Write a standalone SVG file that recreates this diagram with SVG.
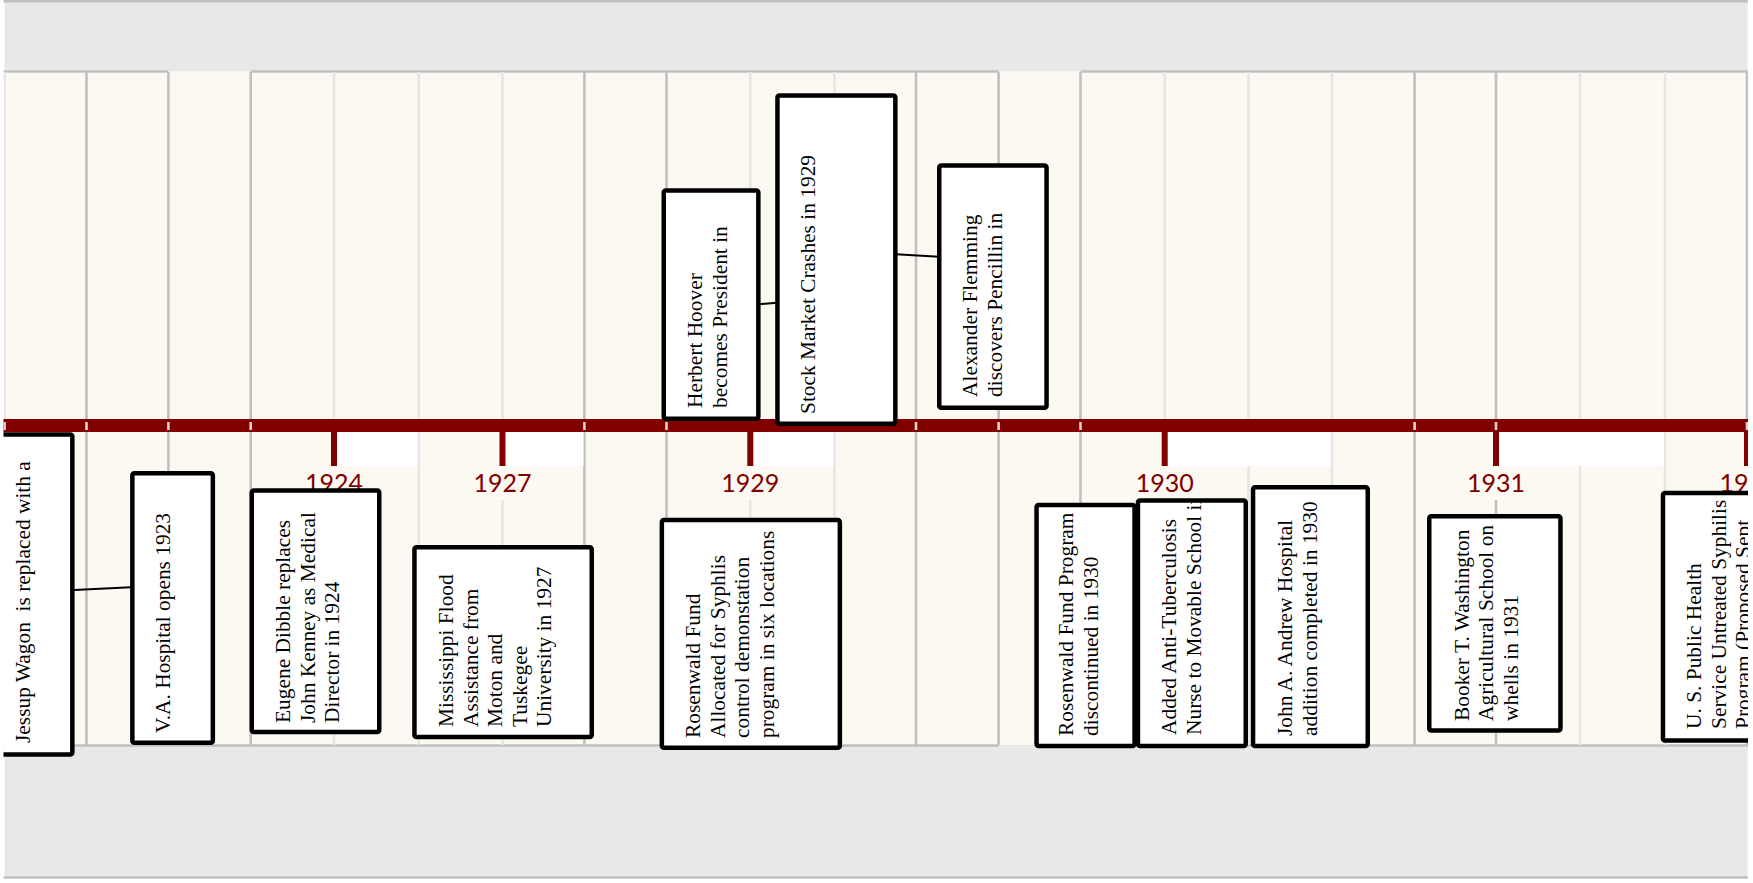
<svg xmlns="http://www.w3.org/2000/svg" width="1753" height="883" viewBox="0 0 1753 883">
<defs>
<style>
.gd{stroke:#c0c0c0;stroke-width:2.6}
.gl{stroke:#e6e6e6;stroke-width:2.6}
.box{fill:#fff;stroke:#000;stroke-width:4.5}
.txt{font-family:"Liberation Serif","Times New Roman",serif;font-size:21.4px;fill:#000}
.yr{font-family:Lato,"Liberation Sans",sans-serif;font-size:25px;fill:#800000}
.conn{stroke:#000;stroke-width:2;fill:none}
.tick{fill:#800000}
.mark{fill:#d4d4d4}
.wht{fill:#fff}
.crm{fill:#fcf9f2}
</style>
<clipPath id="view"><rect x="3.5" y="0" width="1744.5" height="883"/></clipPath>
<clipPath id="clipAdded"><rect x="1139" y="502.8" width="106" height="243"/></clipPath>
</defs>
<g clip-path="url(#view)">
<g id="background">
<rect x="4.6" y="1.5" width="1743" height="70" fill="#e8e8e8"/>
<line x1="3" y1="1.3" x2="1748" y2="1.3" class="gd" stroke-width="3"/>
<rect x="4.6" y="72" width="1743" height="673" class="crm"/>
<rect x="4.6" y="745" width="1743" height="132" fill="#e8e8e8"/>
<line x1="3" y1="71.5" x2="168.4" y2="71.5" class="gd" stroke-width="3"/>
<line x1="250.7" y1="71.5" x2="998.6" y2="71.5" class="gd" stroke-width="3"/>
<line x1="1080.5" y1="71.5" x2="1748" y2="71.5" class="gd" stroke-width="3"/>
<line x1="3" y1="745.5" x2="998.6" y2="745.5" class="gd"/>
<line x1="1080.5" y1="745.5" x2="1748" y2="745.5" class="gd"/>
<line x1="3" y1="877.5" x2="1748" y2="877.5" class="gd" stroke-width="3"/>
<g id="grid">
<line x1="4.6" y1="72" x2="4.6" y2="745" class="gl"/>
<line x1="86.5" y1="72" x2="86.5" y2="745" class="gd"/>
<line x1="168.4" y1="72" x2="168.4" y2="745" class="gd"/>
<line x1="250.7" y1="72" x2="250.7" y2="745" class="gd"/>
<line x1="334" y1="72" x2="334" y2="745" class="gl"/>
<line x1="418.7" y1="72" x2="418.7" y2="745" class="gl"/>
<line x1="502.5" y1="72" x2="502.5" y2="745" class="gl"/>
<line x1="584.4" y1="72" x2="584.4" y2="745" class="gd"/>
<line x1="666.5" y1="72" x2="666.5" y2="745" class="gd"/>
<line x1="750.3" y1="72" x2="750.3" y2="745" class="gl"/>
<line x1="834.5" y1="72" x2="834.5" y2="745" class="gl"/>
<line x1="916" y1="72" x2="916" y2="745" class="gd"/>
<line x1="998.6" y1="72" x2="998.6" y2="745" class="gd"/>
<line x1="1080.5" y1="72" x2="1080.5" y2="745" class="gd"/>
<line x1="1164.7" y1="72" x2="1164.7" y2="745" class="gl"/>
<line x1="1248.5" y1="72" x2="1248.5" y2="745" class="gl"/>
<line x1="1332" y1="72" x2="1332" y2="745" class="gl"/>
<line x1="1414.6" y1="72" x2="1414.6" y2="745" class="gd"/>
<line x1="1496" y1="72" x2="1496" y2="745" class="gd"/>
<line x1="1580" y1="72" x2="1580" y2="745" class="gl"/>
<line x1="1665" y1="72" x2="1665" y2="745" class="gl"/>
<line x1="1747" y1="72" x2="1747" y2="745" class="gd"/>
</g>
<g id="timeline">
<rect x="3" y="419" width="1746" height="13" fill="#800000"/>
<rect x="3.3" y="422" width="2.6" height="8" class="mark"/>
<rect x="85.2" y="422" width="2.6" height="8" class="mark"/>
<rect x="167.1" y="422" width="2.6" height="8" class="mark"/>
<rect x="249.4" y="422" width="2.6" height="8" class="mark"/>
<rect x="583.1" y="422" width="2.6" height="8" class="mark"/>
<rect x="665.2" y="422" width="2.6" height="8" class="mark"/>
<rect x="914.7" y="422" width="2.6" height="8" class="mark"/>
<rect x="997.3" y="422" width="2.6" height="8" class="mark"/>
<rect x="1079.2" y="422" width="2.6" height="8" class="mark"/>
<rect x="1413.3" y="422" width="2.6" height="8" class="mark"/>
<rect x="1494.7" y="422" width="2.6" height="8" class="mark"/>
<rect x="1745.7" y="422" width="2.6" height="8" class="mark"/>
<rect x="335.5" y="432" width="82" height="34" class="wht"/>
<rect x="504" y="432" width="79.5" height="34" class="wht"/>
<rect x="752" y="432" width="81.5" height="34" class="wht"/>
<rect x="1166.2" y="432" width="164.6" height="34" class="wht"/>
<rect x="1498.5" y="432" width="165.5" height="34" class="wht"/>
<rect x="298" y="466" width="72" height="34" class="crm"/>
<rect x="466.5" y="466" width="72" height="34" class="crm"/>
<rect x="714.3" y="466" width="72" height="34" class="crm"/>
<rect x="1128.7" y="466" width="72" height="34" class="crm"/>
<rect x="1460" y="466" width="72" height="34" class="crm"/>
<rect x="1711" y="466" width="72" height="34" class="crm"/>
<rect x="331" y="432" width="6" height="34" class="tick"/>
<rect x="499.5" y="432" width="6" height="34" class="tick"/>
<rect x="747.3" y="432" width="6" height="34" class="tick"/>
<rect x="1161.7" y="432" width="6" height="34" class="tick"/>
<rect x="1493" y="432" width="6" height="34" class="tick"/>
<rect x="1744" y="432" width="6" height="34" class="tick"/>
<text class="yr" x="334" y="491.7" text-anchor="middle">1924</text>
<text class="yr" x="502.5" y="491.7" text-anchor="middle">1927</text>
<text class="yr" x="750.3" y="491.7" text-anchor="middle">1929</text>
<text class="yr" x="1164.7" y="491.7" text-anchor="middle">1930</text>
<text class="yr" x="1496" y="491.7" text-anchor="middle">1931</text>
<text class="yr" x="1719.5" y="491.7">19</text>
</g>
</g>
<g id="connectors">
<line x1="74" y1="590" x2="131" y2="587.3" class="conn"/>
<line x1="759" y1="304.3" x2="777" y2="302.7" class="conn"/>
<line x1="896" y1="254.3" x2="939" y2="256.7" class="conn"/>
</g>
<g id="n-jessup">
<rect x="-7.75" y="434.5" width="80.1" height="319.9" rx="2" class="box"/>
<text class="txt" xml:space="preserve" transform="translate(30,743) rotate(-90)">Jessup Wagon  is replaced with a</text>
</g>
<g id="n-va">
<rect x="132.35" y="473.25" width="80.5" height="269.5" rx="2" class="box"/>
<text class="txt" transform="translate(170,733) rotate(-90)">V.A. Hospital opens 1923</text>
</g>
<g id="n-eugene">
<rect x="251.75" y="490.5" width="127.5" height="241.5" rx="2" class="box"/>
<text class="txt" transform="translate(290,723) rotate(-90)"><tspan x="0" y="0">Eugene Dibble replaces</tspan><tspan x="0" dy="24.5">John Kenney as Medical</tspan><tspan x="0" dy="24.5">Director in 1924</tspan></text>
</g>
<g id="n-mississippi">
<rect x="414.45" y="547.25" width="177.3" height="189.8" rx="2" class="box"/>
<text class="txt" transform="translate(453,727) rotate(-90)"><tspan x="0" y="0">Mississippi Flood</tspan><tspan x="0" dy="24.5">Assistance from</tspan><tspan x="0" dy="24.5">Moton and</tspan><tspan x="0" dy="24.5">Tuskegee</tspan><tspan x="0" dy="24.5">University in 1927</tspan></text>
</g>
<g id="n-herbert">
<rect x="663.75" y="190.55" width="94.6" height="228.2" rx="2" class="box"/>
<text class="txt" transform="translate(702,408) rotate(-90)"><tspan x="0" y="0">Herbert Hoover</tspan><tspan x="0" dy="24.5">becomes President in</tspan></text>
</g>
<g id="n-stock">
<rect x="777.45" y="95.55" width="117.9" height="328.2" rx="2" class="box"/>
<text class="txt" transform="translate(815,414) rotate(-90)">Stock Market Crashes in 1929</text>
</g>
<g id="n-alexander">
<rect x="939.25" y="165.55" width="107.3" height="242.2" rx="2" class="box"/>
<text class="txt" transform="translate(977,397) rotate(-90)"><tspan x="0" y="0">Alexander Flemming</tspan><tspan x="0" dy="24.5">discovers Pencillin in</tspan></text>
</g>
<g id="n-rosenwald">
<rect x="661.85" y="519.95" width="178" height="227.8" rx="2" class="box"/>
<text class="txt" transform="translate(700,738) rotate(-90)"><tspan x="0" y="0">Rosenwald Fund</tspan><tspan x="0" dy="24.5">Allocated for Syphlis</tspan><tspan x="0" dy="24.5">control demonstation</tspan><tspan x="0" dy="24.5">program in six locations</tspan></text>
</g>
<g id="n-rosenwald-program">
<rect x="1036.55" y="504.95" width="98" height="241.1" rx="2" class="box"/>
<text class="txt" transform="translate(1073,736) rotate(-90)"><tspan x="0" y="0">Rosenwald Fund Program</tspan><tspan x="0" dy="24.5">discontinued in 1930</tspan></text>
</g>
<g id="n-added">
<rect x="1137.95" y="500.55" width="107.8" height="245.5" rx="2" class="box"/>
<g clip-path="url(#clipAdded)">
<text class="txt" transform="translate(1176,735) rotate(-90)"><tspan x="0" y="0">Added Anti-Tuberculosis</tspan><tspan x="0" dy="24.5">Nurse to Movable School in</tspan></text>
</g>
</g>
<g id="n-john">
<rect x="1253.05" y="487.25" width="114.7" height="258.8" rx="2" class="box"/>
<text class="txt" transform="translate(1292,736) rotate(-90)"><tspan x="0" y="0">John A. Andrew Hospital</tspan><tspan x="0" dy="24.5">addition completed in 1930</tspan></text>
</g>
<g id="n-booker">
<rect x="1429.25" y="516.25" width="131.2" height="214.2" rx="2" class="box"/>
<text class="txt" transform="translate(1468.5,721) rotate(-90)"><tspan x="0" y="0">Booker T. Washington</tspan><tspan x="0" dy="24.5">Agricultural School on</tspan><tspan x="0" dy="24.5">whells in 1931</tspan></text>
</g>
<g id="n-usphs">
<rect x="1662.95" y="492.95" width="120" height="247.5" rx="2" class="box"/>
<text class="txt" transform="translate(1701,729) rotate(-90)"><tspan x="0" y="0">U. S. Public Health</tspan><tspan x="0" dy="24.5">Service Untreated Syphilis</tspan><tspan x="0" dy="24.5">Program (Proposed Sept</tspan></text>
</g>
</g>
</svg>
